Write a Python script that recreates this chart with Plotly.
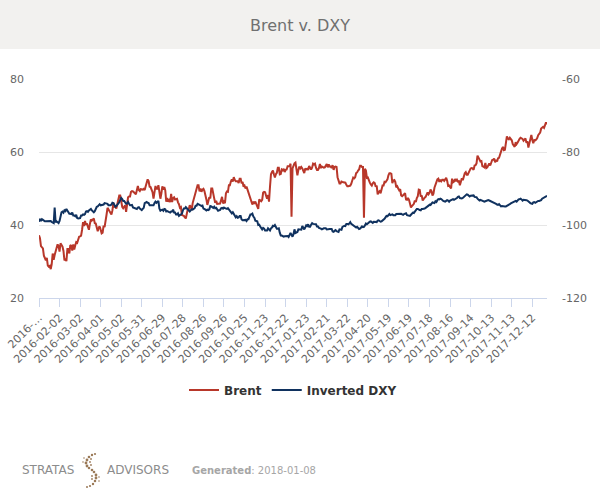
import pandas as pd
import plotly.graph_objects as go

# ---------------- data ----------------
holidays_excluded = ["2016-03-25", "2016-12-26", "2017-12-25", "2017-12-26", "2018-01-01"]
all_days = pd.bdate_range("2016-01-04", "2018-01-05")
dates = [d.strftime("%Y-%m-%d") for d in all_days if d.strftime("%Y-%m-%d") not in holidays_excluded]

tick_dates = ["2016-01-04", "2016-02-02", "2016-03-02", "2016-04-01", "2016-05-02", "2016-05-31",
              "2016-06-29", "2016-07-28", "2016-08-26", "2016-09-26", "2016-10-25", "2016-11-23",
              "2016-12-22", "2017-01-23", "2017-02-21", "2017-03-22", "2017-04-20", "2017-05-19",
              "2017-06-19", "2017-07-18", "2017-08-16", "2017-09-14", "2017-10-13", "2017-11-13",
              "2017-12-12"]
tick_labels = ["2016-…"] + tick_dates[1:]

brent = [
    # 2016 Jan
    37.2, 36.4, 34.2, 33.8, 33.6, 31.6, 30.9, 30.3, 31.0, 28.9, 28.6, 28.8, 27.9, 29.3, 32.2, 30.5, 31.8, 33.1, 33.9, 34.7,
    # Feb
    34.2, 32.7, 35.0, 34.5, 34.1, 32.9, 30.3, 30.8, 30.1, 33.4, 33.4, 32.2, 34.5, 34.3, 33.0, 34.7, 33.3, 34.4, 35.3, 35.1, 36.0,
    # Mar
    36.8, 36.9, 37.1, 38.7, 40.8, 39.7, 41.1, 40.1, 40.4, 39.5, 38.7, 40.3, 41.5, 41.2, 41.5, 41.8, 40.5, 40.4, 39.3, 38.3, 39.3, 39.6,
    # Apr
    38.7, 37.7, 37.9, 39.8, 39.4, 41.9, 42.8, 44.7, 44.2, 43.8, 43.1, 42.9, 44.0, 46.1, 45.0, 45.1, 44.5, 45.7, 47.2, 48.1, 48.1,
    # May
    45.8, 45.0, 44.6, 45.0, 45.4, 43.6, 46.5, 47.6, 47.8, 47.8, 49.1, 49.3, 49.2, 48.8, 48.7, 48.4, 49.6, 50.7, 49.6, 49.3, 49.8, 49.7,
    # Jun
    49.7, 49.9, 49.6, 50.6, 51.4, 52.5, 52.0, 50.5, 50.4, 49.8, 49.0, 47.2, 49.2, 50.7, 49.9, 49.9, 50.9, 48.4, 47.2, 48.6, 50.6, 49.7,
    # Jul
    50.4, 49.5, 46.4, 47.4, 46.4, 46.8, 46.3, 48.5, 46.3, 47.4, 47.6, 47.0, 47.1, 47.2, 46.2, 45.7, 44.7, 44.9, 42.7, 42.7, 42.5,
    # Aug
    42.1, 41.8, 43.1, 44.3, 44.3, 45.4, 45.0, 44.1, 46.0, 47.0, 48.4, 49.2, 49.9, 50.9, 50.9, 49.2, 50.0, 49.1, 49.7, 49.9, 49.3, 48.4, 47.0,
    # Sep
    45.5, 46.8, 47.6, 47.3, 50.0, 50.0, 48.0, 47.3, 46.1, 46.6, 45.8, 45.8, 46.0, 45.9, 46.8, 47.7, 45.9, 46.4, 46.0, 48.7, 49.2, 49.1,
    # Oct
    50.9, 50.9, 51.9, 52.5, 51.9, 53.1, 52.4, 52.0, 52.0, 52.0, 51.5, 52.7, 52.7, 51.4, 51.8, 50.5, 50.8, 50.0, 50.5, 49.7, 48.3,
    # Nov
    48.1, 46.9, 46.4, 45.6, 46.2, 46.0, 46.4, 45.8, 44.8, 44.4, 47.0, 46.6, 46.5, 46.9, 48.9, 49.1, 49.0, 48.0, 47.2, 48.2, 46.4, 50.5,
    # Dec
    53.9, 54.5, 54.9, 53.9, 53.0, 53.9, 54.3, 55.7, 55.7, 53.9, 54.0, 55.2, 55.0, 55.4, 54.5, 55.1, 55.2, 56.1, 56.2, 56.1, 56.8,
    # 2017 Jan
    42.3, 55.5, 56.5, 56.9, 57.1, 54.9, 53.6, 55.1, 56.0, 55.5, 55.9, 55.5, 54.9, 54.2, 55.5, 55.2, 55.4, 55.1, 56.2, 55.5, 55.2, 55.7,
    # Feb
    56.8, 56.6, 56.8, 55.7, 55.1, 55.1, 55.6, 56.7, 55.6, 56.0, 55.8, 55.7, 55.8, 56.4, 56.7, 55.8, 56.6, 56.0, 56.0, 55.6,
    # Mar
    56.4, 55.1, 55.9, 56.0, 55.9, 53.1, 52.2, 51.4, 51.4, 51.9, 51.8, 51.7, 51.8, 51.6, 51.0, 50.6, 50.6, 50.8, 50.8, 51.3, 52.4, 53.0, 52.8,
    # Apr
    53.1, 54.2, 54.4, 54.9, 55.2, 56.2, 56.2, 55.9, 55.9, 42.0, 55.4, 54.9, 52.9, 53.0, 52.0, 51.6, 51.1, 50.8, 51.4, 51.7,
    # May
    51.5, 50.5, 50.8, 48.4, 49.1, 49.3, 48.7, 50.2, 50.8, 50.8, 51.8, 51.7, 52.2, 52.5, 53.6, 54.2, 54.2, 54.0, 51.5, 52.2, 52.3, 51.8, 50.3,
    # Jun
    50.6, 50.0, 49.5, 49.8, 48.1, 47.9, 48.2, 48.3, 48.7, 47.0, 46.9, 47.4, 46.9, 45.9, 44.8, 45.2, 45.5, 45.8, 46.7, 46.3, 47.4, 47.9,
    # Jul
    49.7, 49.6, 47.8, 48.1, 46.7, 47.3, 47.5, 47.7, 48.4, 48.9, 48.4, 48.8, 49.7, 49.3, 48.1, 48.6, 50.2, 51.0, 51.5, 52.5, 52.7,
    # Aug
    51.8, 52.4, 52.0, 52.4, 52.4, 52.1, 52.7, 52.9, 52.1, 50.7, 50.8, 50.3, 50.0, 52.7, 51.7, 51.9, 52.6, 52.0, 52.4, 51.9, 52.0, 50.9, 52.4,
    # Sep
    52.8, 52.3, 53.4, 54.2, 54.5, 53.8, 53.8, 54.3, 55.2, 55.5, 55.6, 55.5, 55.1, 56.3, 56.4, 56.9, 59.0, 58.4, 57.9, 57.4, 57.5,
    # Oct
    56.1, 56.0, 55.8, 57.0, 55.6, 55.8, 56.6, 56.9, 56.3, 57.2, 57.8, 57.9, 58.2, 57.2, 57.8, 57.4, 58.3, 58.4, 59.3, 60.4, 60.9, 61.4,
    # Nov
    60.5, 60.6, 62.1, 64.3, 63.7, 63.5, 63.9, 63.5, 63.2, 62.2, 61.9, 61.4, 62.7, 62.2, 62.6, 63.3, 63.6, 63.9, 63.8, 63.6, 63.1, 63.6,
    # Dec
    63.7, 62.5, 62.9, 61.2, 62.2, 63.4, 64.7, 63.3, 62.4, 63.3, 63.2, 63.4, 63.8, 64.6, 64.9, 65.3, 66.4, 66.7, 66.9,
    # 2018 Jan
    66.6, 67.8, 68.1, 67.6,
]

dxy_inverted = [
    # 2016 Jan
    -99.1, -98.3, -98.9, -98.4, -98.6, -98.9, -99.0, -99.0, -99.0, -98.9, -99.0, -99.1, -98.9, -99.2, -99.4, -99.5, -95.2, -99.3, -99.0, -99.4,
    # Feb
    -99.5, -98.9, -97.2, -96.5, -96.3, -96.6, -96.0, -96.2, -95.6, -96.0, -96.4, -96.9, -96.9, -97.0, -96.6, -97.4, -97.4, -97.6, -97.2, -98.1, -98.2,
    # Mar
    -98.2, -98.1, -97.4, -97.4, -97.1, -97.2, -97.0, -96.3, -96.2, -96.4, -96.0, -95.8, -95.6, -96.0, -96.4, -96.5, -96.2, -95.4, -95.0, -94.9, -94.6, -94.3,
    # Apr
    -94.6, -94.6, -94.6, -94.4, -94.0, -94.1, -94.1, -94.2, -94.6, -94.7, -94.6, -94.4, -93.9, -94.0, -94.6, -95.0, -94.8, -94.5, -94.4, -93.8, -93.1,
    # May
    -92.6, -92.9, -93.4, -93.4, -93.8, -94.2, -94.1, -93.7, -94.2, -94.6, -94.6, -94.5, -95.2, -95.3, -95.3, -95.3, -95.6, -95.2, -95.1, -95.5, -95.8, -95.9,
    # Jun
    -95.6, -95.3, -94.0, -93.9, -93.7, -93.9, -94.0, -94.6, -94.6, -94.8, -94.6, -94.6, -94.0, -93.6, -93.9, -93.6, -93.4, -95.5, -96.1, -95.9, -95.8, -96.1,
    # Jul
    -95.6, -95.7, -96.3, -96.2, -96.3, -96.3, -96.6, -96.3, -96.3, -95.8, -96.6, -96.6, -97.1, -97.1, -96.8, -97.5, -97.3, -96.9, -96.9, -96.0, -95.5,
    # Aug
    -95.5, -95.1, -95.4, -95.7, -96.2, -96.3, -96.0, -95.7, -95.8, -95.7, -95.4, -94.7, -94.7, -94.2, -94.5, -94.5, -94.6, -94.8, -94.7, -95.5, -95.6, -95.9, -96.0,
    # Sep
    -95.8, -95.9, -95.7, -94.8, -94.9, -95.1, -95.3, -95.0, -95.4, -95.3, -95.6, -96.1, -96.0, -95.9, -95.4, -95.3, -95.5, -95.2, -95.4, -95.6, -95.6, -95.4,
    # Oct
    -95.7, -96.1, -96.2, -96.8, -96.5, -96.9, -97.6, -97.9, -97.6, -98.0, -97.9, -97.5, -97.5, -98.5, -98.7, -98.7, -98.8, -98.6, -98.9, -98.4, -98.4,
    # Nov
    -97.6, -97.1, -97.1, -96.9, -97.7, -98.0, -98.8, -98.8, -99.0, -100.0, -99.9, -100.4, -100.8, -101.2, -100.8, -101.0, -101.5, -101.5, -101.5, -100.9, -101.3, -101.5,
    # Dec
    -100.9, -100.7, -100.2, -100.3, -100.0, -100.8, -101.0, -101.0, -100.9, -102.1, -102.9, -102.9, -103.2, -103.2, -103.1, -103.1, -102.9, -103.0, -103.3, -102.8, -102.2,
    # 2017 Jan
    -102.7, -103.2, -102.5, -101.2, -102.2, -101.9, -101.9, -101.2, -101.2, -101.2, -101.3, -100.3, -101.0, -101.2, -100.7, -100.1, -100.3, -99.8, -100.5, -100.5, -99.9, -99.5,
    # Feb
    -99.7, -99.8, -99.8, -99.8, -100.4, -100.4, -100.8, -100.8, -101.0, -101.2, -100.9, -100.9, -100.9, -100.9, -101.2, -101.1, -101.1, -101.1, -101.1, -101.1,
    # Mar
    -101.8, -101.9, -101.6, -101.4, -101.7, -101.8, -101.9, -101.2, -101.2, -101.3, -100.5, -100.2, -100.2, -100.3, -99.7, -99.7, -99.8, -99.6, -99.2, -99.7, -99.9, -100.3, -100.4,
    # Apr
    -100.5, -100.7, -100.5, -100.7, -101.1, -101.0, -100.6, -100.4, -100.6, -100.5, -100.1, -99.6, -99.8, -99.5, -99.4, -99.1, -99.0, -99.2, -99.4, -99.1,
    # May
    -99.1, -99.0, -99.2, -98.8, -98.7, -98.9, -99.1, -99.0, -98.8, -98.6, -98.3, -97.9, -97.5, -97.6, -97.1, -97.0, -97.3, -97.1, -97.1, -97.3, -97.3, -97.3, -97.0,
    # Jun
    -97.0, -96.8, -96.9, -96.8, -96.9, -97.1, -97.2, -97.0, -97.0, -96.8, -97.3, -97.3, -97.5, -97.5, -97.2, -96.9, -96.6, -96.7, -96.3, -96.0, -95.6, -95.6,
    # Jul
    -95.9, -95.9, -96.0, -95.6, -95.6, -95.6, -95.5, -95.3, -95.2, -94.9, -94.7, -94.4, -94.5, -94.2, -93.8, -93.9, -94.0, -93.5, -93.7, -93.2, -92.9,
    # Aug
    -93.0, -92.8, -92.9, -93.3, -93.4, -93.5, -93.6, -93.4, -93.2, -93.3, -93.6, -93.3, -93.2, -93.0, -92.9, -93.1, -93.0, -92.9, -92.6, -92.3, -92.2, -92.6, -92.7,
    # Sep
    -92.7, -92.6, -92.3, -92.2, -91.9, -91.6, -91.7, -91.9, -92.2, -92.0, -91.9, -92.0, -91.9, -92.3, -92.3, -92.4, -92.8, -93.0, -93.3, -93.1, -93.2,
    # Oct
    -93.5, -93.4, -93.6, -93.5, -93.4, -93.1, -93.2, -93.3, -93.4, -93.6, -93.7, -93.9, -94.0, -93.9, -94.2, -94.4, -94.5, -94.3, -94.7, -94.9, -94.8, -94.9,
    # Nov
    -94.8, -94.9, -94.9, -94.8, -94.6, -94.5, -94.3, -94.1, -94.0, -93.8, -93.7, -93.6, -93.4, -93.6, -93.2, -93.0, -92.9, -92.8, -93.0, -93.3, -93.1, -93.1,
    # Dec
    -93.0, -93.2, -93.3, -93.6, -93.8, -94.0, -94.1, -94.2, -93.8, -93.7, -93.9, -93.7, -93.4, -93.4, -93.4, -93.3, -93.2, -92.8, -92.6,
    # 2018 Jan
    -92.4, -92.2, -92.0, -92.0,
]

left_ticks = [20, 40, 60, 80]
right_ticks = [-120, -100, -80, -60]
right_tick_labels = ["-120", "-100", "-80", "-60"]

assert len(dates) == len(brent) == len(dxy_inverted), (len(dates), len(brent), len(dxy_inverted))

# ---------------- layout helpers ----------------
W, H = 600, 500
ML, MR, MT, MB = 39, 53, 79, 202
PW, PH = W - ML - MR, H - MT - MB


def px(x):
    return (x - ML) / PW


def py(y):
    return (H - MB - y) / PH


FONT = "DejaVu Sans"
RED = "#b8372a"
NAVY = "#10325f"

fig = go.Figure()
fig.add_trace(go.Scatter(x=dates, y=brent, name="Brent", mode="lines",
                         line=dict(color=RED, width=2), yaxis="y"))
fig.add_trace(go.Scatter(x=dates, y=dxy_inverted, name="Inverted DXY", mode="lines",
                         line=dict(color=NAVY, width=2), yaxis="y2"))

shapes = [
    dict(type="rect", xref="paper", yref="paper", x0=px(0), x1=px(W), y0=py(49), y1=py(0),
         fillcolor="#f2f1ef", line=dict(width=0), layer="below"),
]

# Stratas logo (dotted S mark)
logo_dots = [(95, 454, 1.1), (92, 455, 1.2), (89, 457, 1.3), (87, 460, 1.4), (86, 463, 1.4),
             (87, 466, 1.4), (89, 468, 1.3), (92, 470, 1.3), (94, 472, 1.3), (96, 475, 1.4),
             (96, 478, 1.4), (95, 481, 1.3), (93, 484, 1.2), (90, 486, 1.1), (87, 487, 1.0),
             (91, 459, 0.9), (90, 462, 0.9), (91, 465, 0.9), (92, 476, 0.9), (92, 479, 0.9),
             (84, 458, 0.8), (83, 462, 0.8), (99, 477, 0.8), (99, 481, 0.8)]
for (cx, cy, r) in logo_dots:
    shapes.append(dict(type="circle", xref="paper", yref="paper",
                       x0=px(cx - r), x1=px(cx + r), y0=py(cy + r), y1=py(cy - r),
                       fillcolor="#9b7a58", line=dict(width=0)))

annotations = [
    dict(text="STRATAS", xref="paper", yref="paper", x=px(20), y=py(470), xanchor="left",
         yanchor="middle", showarrow=False, font=dict(family=FONT, size=12, color="#8c8c8c")),
    dict(text="ADVISORS", xref="paper", yref="paper", x=px(105), y=py(470), xanchor="left",
         yanchor="middle", showarrow=False, font=dict(family=FONT, size=12, color="#8c8c8c")),
    dict(text="<b>Generated</b>: 2018-01-08", xref="paper", yref="paper", x=px(190), y=py(470),
         xanchor="left", yanchor="middle", showarrow=False,
         font=dict(family=FONT, size=10, color="#a6a6a6")),
]

fig.update_layout(
    width=W, height=H,
    margin=dict(l=ML, r=MR, t=MT, b=MB, pad=0, autoexpand=False),
    paper_bgcolor="white", plot_bgcolor="white",
    font=dict(family=FONT, color="#666666", size=11),
    title=dict(text="Brent v. DXY", x=0.5, xref="container", xanchor="center",
               y=1 - 25 / H, yref="container", yanchor="middle",
               font=dict(family=FONT, size=16, color="#707070")),
    showlegend=True,
    legend=dict(orientation="h", x=px(293), xanchor="center", y=py(390), yanchor="middle",
                font=dict(family=FONT, size=12, color="#333333", weight="bold"),
                bgcolor="rgba(0,0,0,0)", itemwidth=30, tracegroupgap=0),
    xaxis=dict(type="category", range=[0, len(dates) - 1], tickmode="array",
               tickvals=tick_dates, ticktext=tick_labels, tickangle=-45,
               ticks="outside", ticklen=8, tickcolor="#ccd6eb", tickwidth=1,
               showline=True, linecolor="#ccd6eb", linewidth=1, showgrid=False,
               zeroline=False, automargin=False,
               tickfont=dict(family=FONT, size=11, color="#666666")),
    yaxis=dict(range=[20, 80], tickmode="array", tickvals=left_ticks,
               showgrid=True, gridcolor="#e6e6e6", gridwidth=1, zeroline=False,
               showline=False, ticks="", ticklabelstandoff=14, automargin=False,
               tickfont=dict(family=FONT, size=11, color="#666666")),
    yaxis2=dict(range=[-120, -60], overlaying="y", side="right", tickmode="array",
                tickvals=right_ticks, ticktext=right_tick_labels, showgrid=False,
                zeroline=False, showline=False, ticks="", ticklabelstandoff=14,
                automargin=False, tickfont=dict(family=FONT, size=11, color="#666666")),
    shapes=shapes,
    annotations=annotations,
    hovermode=False,
)

fig.write_html("out.html", config={"displayModeBar": False},
               post_script="document.body.style.margin='0';document.body.style.overflow='hidden';")
